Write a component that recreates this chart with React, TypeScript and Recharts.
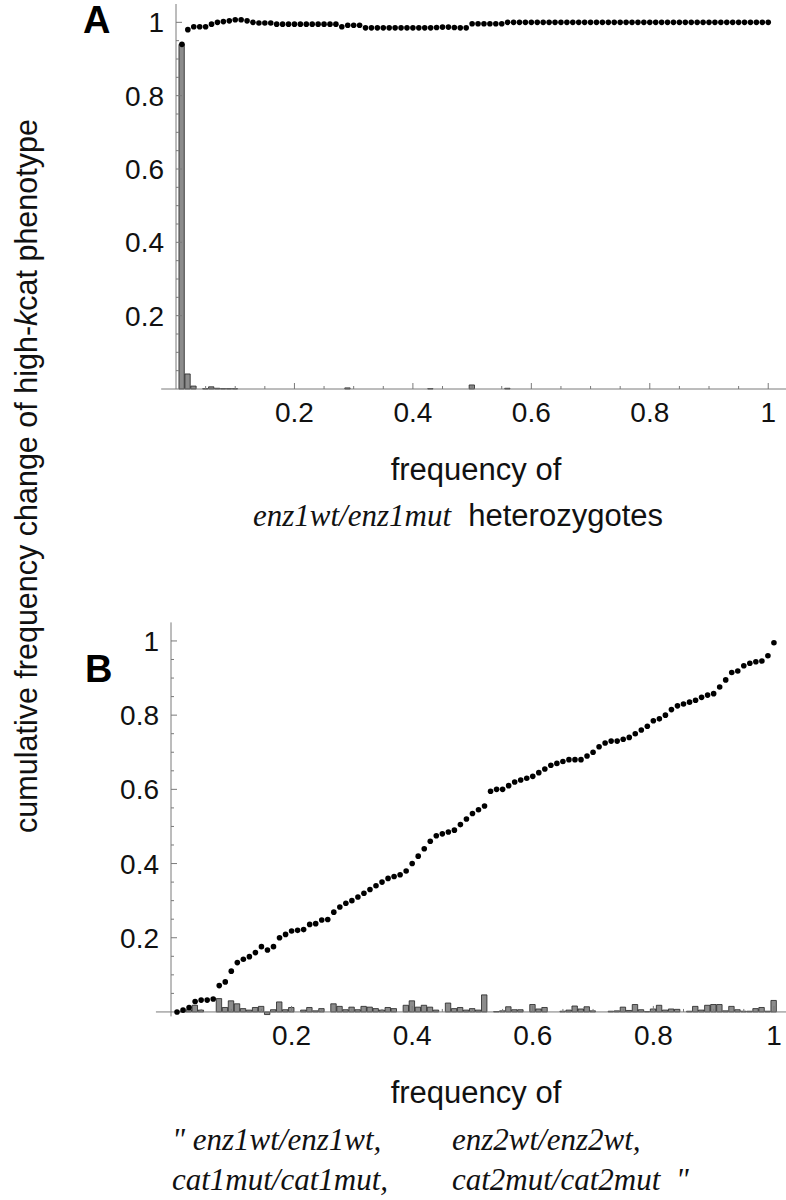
import React from 'react'
import { ComposedChart, Bar, Scatter, XAxis, YAxis, ReferenceLine } from 'recharts'

// bin centres of the histogram (frequency grid, step 0.01)
const FREQ = Array.from({ length: 100 }, (_, i) => (i + 1) / 100)

// panel A: cumulative change (dots) and per-bin change (bars)
const CUM_A = [
  0.94, 0.98, 0.988, 0.988, 0.988, 0.995, 1.0, 1.002, 1.004, 1.007,
  1.007, 1.004, 1.0, 0.998, 0.998, 0.998, 0.995, 0.995, 0.995, 0.995,
  0.995, 0.995, 0.995, 0.995, 0.995, 0.995, 0.995, 0.988, 0.992, 0.992,
  0.992, 0.985, 0.985, 0.985, 0.985, 0.985, 0.985, 0.985, 0.985, 0.985,
  0.985, 0.985, 0.985, 0.986, 0.987, 0.987, 0.986, 0.985, 0.985, 0.996,
  0.996, 0.996, 0.996, 0.996, 0.996, 1.0, 1.0, 1.0, 1.0, 1.0,
  1.0, 1.0, 1.0, 1.0, 1.0, 1.0, 1.0, 1.0, 1.0, 1.0,
  1.0, 1.0, 1.0, 1.0, 1.0, 1.0, 1.0, 1.0, 1.0, 1.0,
  1.0, 1.0, 1.0, 1.0, 1.0, 1.0, 1.0, 1.0, 1.0, 1.0,
  1.0, 1.0, 1.0, 1.0, 1.0, 1.0, 1.0, 1.0, 1.0, 1.0,
]
const BAR_A = [
  0.94, 0.041, 0.008, 0, 0.001, 0.006, 0.002, 0.001, 0.001, 0.001,
  0, 0, 0, 0, 0, 0, 0, 0, 0, 0,
  0, 0, 0, 0, 0, 0, 0, 0, 0.003, 0,
  0, 0, 0, 0, 0, 0, 0, 0, 0, 0,
  0, 0, 0.001, 0, 0, 0, 0, 0, 0, 0.011,
  0, 0, 0, 0, 0, 0.002, 0, 0, 0, 0,
  0, 0, 0, 0, 0, 0, 0, 0, 0, 0,
  0, 0, 0, 0, 0, 0, 0, 0, 0, 0,
  0, 0, 0, 0, 0, 0, 0, 0, 0, 0,
  0, 0, 0, 0, 0, 0, 0, 0, 0, 0,
]

// panel B
const CUM_B = [
  0.0, 0.005, 0.012, 0.028, 0.032, 0.032, 0.035, 0.071, 0.081, 0.11,
  0.133, 0.142, 0.149, 0.16, 0.176, 0.167, 0.176, 0.2, 0.209, 0.218,
  0.22, 0.222, 0.236, 0.238, 0.248, 0.249, 0.269, 0.283, 0.293, 0.3,
  0.31, 0.32, 0.33, 0.34, 0.35, 0.36, 0.365, 0.37, 0.38, 0.4,
  0.42, 0.44, 0.46, 0.475, 0.48, 0.485, 0.49, 0.505, 0.52, 0.535,
  0.545, 0.555, 0.595, 0.6, 0.6, 0.61, 0.62, 0.625, 0.63, 0.635,
  0.645, 0.655, 0.665, 0.67, 0.675, 0.68, 0.68, 0.68, 0.69, 0.7,
  0.715, 0.725, 0.73, 0.73, 0.735, 0.74, 0.75, 0.76, 0.77, 0.785,
  0.79, 0.8, 0.815, 0.825, 0.83, 0.835, 0.84, 0.848, 0.854, 0.858,
  0.876, 0.895, 0.915, 0.919, 0.933, 0.94, 0.944, 0.946, 0.96, 0.995,
]
const BAR_B = [
  0, 0.002, 0.006, 0.018, 0.005, 0, 0, 0.036, 0.012, 0.03,
  0.022, 0.009, 0.005, 0.012, 0.015, -0.007, 0.006, 0.027, 0.006, 0.012,
  0, 0.005, 0.012, 0.003, 0.009, 0, 0.022, 0.015, 0.006, 0.013,
  0.006, 0.015, 0.013, 0.009, 0.005, 0.012, 0.009, 0, 0.018, 0.03,
  0.013, 0.018, 0.013, 0.005, 0, 0.024, 0.009, 0.012, 0.005, 0.009,
  0.005, 0.046, 0, 0.001, 0.003, 0.014, 0.006, 0.006, 0, 0.02,
  0.008, 0.012, 0, 0, 0.002, 0.005, 0.016, 0.008, 0.014, 0.003,
  0, 0, 0.002, 0.003, 0.013, 0.004, 0.02, 0.006, 0.001, 0.008,
  0.018, 0.005, 0.008, 0.007, 0, 0.002, 0.015, 0.005, 0.018, 0.02,
  0.02, 0.003, 0.015, 0.006, 0.002, 0.002, 0.009, 0.012, 0.002, 0.031,
]

const TICKS = [
  0.05, 0.1, 0.15, 0.2, 0.25, 0.3, 0.35, 0.4, 0.45, 0.5,
  0.55, 0.6, 0.65, 0.7, 0.75, 0.8, 0.85, 0.9, 0.95, 1,
]
const MAJOR_TICKS = [0.2, 0.4, 0.6, 0.8, 1]

const SANS = '"Liberation Sans", Arial, Helvetica, sans-serif'
const SERIF = '"Liberation Serif", "Times New Roman", serif'
const AXIS = '#7a7a7a'

const isMajor = (v: number) => MAJOR_TICKS.some((m) => Math.abs(m - v) < 1e-6)
const fmt = (v: number) => (Math.abs(v - 1) < 1e-6 ? '1' : v.toFixed(1))

function YTick({ x, y, payload }: any) {
  const major = isMajor(payload.value)
  return (
    <g>
      <line x1={x} x2={x + (major ? 6 : 3)} y1={y} y2={y} stroke={AXIS} />
      {major && (
        <text x={x - 12} y={y + 10} textAnchor="end" fontSize={28} fontFamily={SANS} fill="#111">
          {fmt(payload.value)}
        </text>
      )}
    </g>
  )
}

function XTick({ x, y, payload, shift }: any) {
  const major = isMajor(payload.value)
  const y0 = y - shift
  return (
    <g>
      <line x1={x} x2={x} y1={y0} y2={y0 - (major ? 6 : 3)} stroke={AXIS} />
      {major && (
        <text x={x} y={y0 + 33} textAnchor="middle" fontSize={28} fontFamily={SANS} fill="#111">
          {fmt(payload.value)}
        </text>
      )}
    </g>
  )
}

type PanelProps = {
  top: number
  height: number
  left: number
  plotW: number
  plotTop: number
  plotH: number
  xMax: number
  yMin: number
  yMax: number
  cum: number[]
  bars: number[]
}

function Panel({ top, height, left, plotW, plotTop, plotH, xMax, yMin, yMax, cum, bars }: PanelProps) {
  const data = FREQ.map((f, i) => ({ f, cum: cum[i], bar: bars[i] }))
  const shift = (plotH * -yMin) / (yMax - yMin)
  const barSize = (plotW / xMax) * 0.01
  return (
    <div style={{ position: 'absolute', left: 0, top, width: 786, height }}>
      <ComposedChart
        width={786}
        height={height}
        data={data}
        style={{ overflow: 'visible' }}
        margin={{ top: plotTop, left: left - 2, right: 786 - left - plotW, bottom: height - plotTop - plotH - 2 }}
      >
        <XAxis
          dataKey="f"
          type="number"
          domain={[0, xMax]}
          ticks={TICKS}
          interval={0}
          height={2}
          axisLine={false}
          tickLine={false}
          tickSize={0}
          tickMargin={0}
          tick={(p: any) => <XTick {...p} shift={shift} />}
        />
        <YAxis
          type="number"
          domain={[yMin, yMax]}
          ticks={TICKS}
          interval={0}
          width={2}
          axisLine={{ stroke: AXIS }}
          tickLine={false}
          tickSize={0}
          tickMargin={0}
          tick={(p: any) => <YTick {...p} />}
        />
        <ReferenceLine
          segment={[{ x: -0.025, y: 0 }, { x: xMax, y: 0 }]}
          stroke={AXIS}
          ifOverflow="visible"
        />
        <Bar dataKey="bar" barSize={barSize} fill="#8c8c8c" stroke="#222" strokeWidth={0.8} isAnimationActive={false} />
        <Scatter
          dataKey="cum"
          isAnimationActive={false}
          shape={(p: any) => <circle cx={p.cx} cy={p.cy} r={2.8} fill="#000" />}
        />
      </ComposedChart>
    </div>
  )
}

const pre = { whiteSpace: 'pre' as const }

export default function App() {
  return (
    <div style={{ position: 'absolute', left: 0, top: 0, width: 786, height: 1200, background: '#fff' }}>
      <Panel
        top={0}
        height={440}
        left={176}
        plotW={610}
        plotTop={4}
        plotH={385}
        xMax={1.03}
        yMin={0}
        yMax={1.05}
        cum={CUM_A}
        bars={BAR_A}
      />
      <Panel
        top={600}
        height={460}
        left={171}
        plotW={615}
        plotTop={22.4}
        plotH={394}
        xMax={1.02}
        yMin={-0.012}
        yMax={1.05}
        cum={CUM_B}
        bars={BAR_B}
      />
      <svg width={786} height={1200} style={{ position: 'absolute', left: 0, top: 0, pointerEvents: 'none' }}>
        <text x={83} y={33} fontSize={38} fontWeight="bold" fontFamily={SANS} fill="#000">A</text>
        <text x={85} y={682} fontSize={38} fontWeight="bold" fontFamily={SANS} fill="#000">B</text>
        <text
          transform="translate(37, 476) rotate(-90)"
          textAnchor="middle"
          fontSize={30.5}
          fontFamily={SANS}
          fill="#111"
        >
          cumulative frequency change of high-<tspan fontStyle="italic">k</tspan>cat phenotype
        </text>
        <text x={476} y={480} textAnchor="middle" fontSize={31} fontFamily={SANS} fill="#111">frequency of</text>
        <text x={458} y={526} textAnchor="middle" fontSize={31} fill="#111" style={pre}>
          <tspan fontFamily={SERIF} fontStyle="italic">enz1wt/enz1mut</tspan>
          <tspan fontFamily={SANS}>{'  heterozygotes'}</tspan>
        </text>
        <text x={476} y={1103} textAnchor="middle" fontSize={31} fontFamily={SANS} fill="#111">frequency of</text>
        <text x={172} y={1150} fontSize={31} fontFamily={SERIF} fontStyle="italic" fill="#111" style={pre}>
          {'" enz1wt/enz1wt,'}
        </text>
        <text x={452} y={1150} fontSize={31} fontFamily={SERIF} fontStyle="italic" fill="#111">
          enz2wt/enz2wt,
        </text>
        <text x={172} y={1190} fontSize={31} fontFamily={SERIF} fontStyle="italic" fill="#111">
          cat1mut/cat1mut,
        </text>
        <text x={452} y={1190} fontSize={31} fontFamily={SERIF} fontStyle="italic" fill="#111" style={pre}>
          {'cat2mut/cat2mut  "'}
        </text>
      </svg>
    </div>
  )
}
